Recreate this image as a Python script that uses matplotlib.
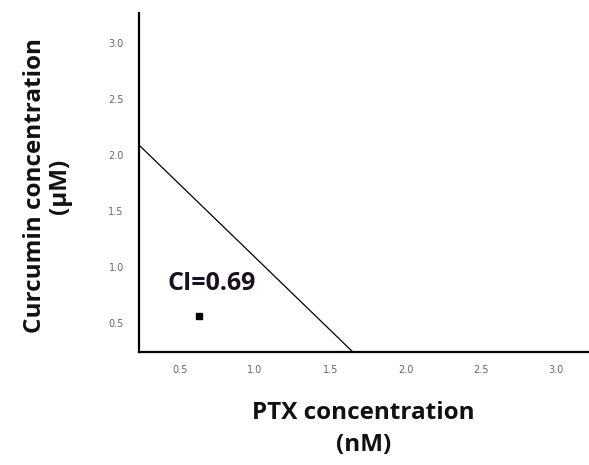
import matplotlib
matplotlib.use("Agg")
import matplotlib.pyplot as plt

# ── Data ──────────────────────────────────────────────────────────────────────
iso_x = [0.23, 1.65]      # PTX (nM)
iso_y = [2.09, 0.24]      # Curcumin (µM)
pt_x = [0.63]
pt_y = [0.56]
ci_label = "CI=0.69"
ticks = [0.5, 1.0, 1.5, 2.0, 2.5, 3.0]

plt.rcParams["font.family"] = ["Open Sans", "DejaVu Sans"]

fig = plt.figure(figsize=(5.89, 4.65), dpi=100)
ax = fig.add_axes([0.236, 0.243, 0.762, 0.729])

ax.plot(iso_x, iso_y, color="black", linewidth=0.9)
ax.plot(pt_x, pt_y, marker="s", color="black", markersize=4, linestyle="none")
ax.text(0.71, 0.85, ci_label, ha="center", va="center",
        fontsize=18, fontweight="bold", color="#1a1020")

ax.set_xlim(0.23, 3.21)
ax.set_ylim(0.24, 3.27)
ax.set_xticks(ticks)
ax.set_yticks(ticks)
ax.set_xticklabels([f"{t:.1f}" for t in ticks], family="DejaVu Sans")
ax.set_yticklabels([f"{t:.1f}" for t in ticks], family="DejaVu Sans")
ax.tick_params(length=0, labelsize=7, colors="#666666")
ax.tick_params(axis="x", pad=9)
ax.tick_params(axis="y", pad=11)

for s in ["top", "right"]:
    ax.spines[s].set_visible(False)
for s in ["left", "bottom"]:
    ax.spines[s].set_linewidth(1.6)

ax.set_xlabel("PTX concentration\n(nM)", fontsize=17.5, fontweight="bold",
              labelpad=19, linespacing=1.45, color="#111111")
ax.set_ylabel("Curcumin concentration\n(µM)", fontsize=17.5, fontweight="bold",
              linespacing=1.05, color="#111111")
ax.yaxis.set_label_coords(-0.15, 0.49)

fig.savefig("out.png", dpi=100)
